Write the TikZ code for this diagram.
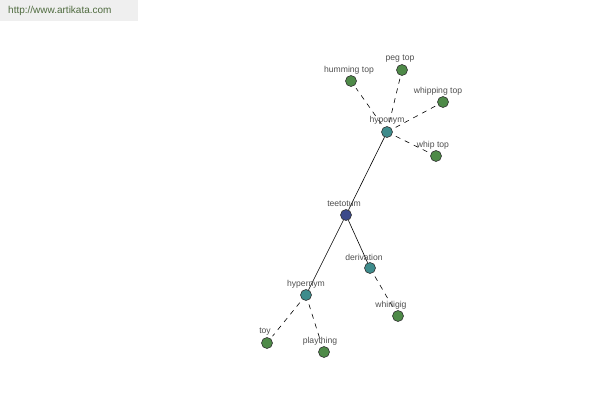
\documentclass[tikz,border=0pt]{standalone}
\usepackage{fontspec}
\setmainfont{Liberation Sans}
\definecolor{nodegreen}{HTML}{4E8A48}
\definecolor{nodeteal}{HTML}{3E8C8C}
\definecolor{nodeblue}{HTML}{3C4A8A}
\definecolor{labelgray}{HTML}{505050}
\definecolor{wmbg}{HTML}{EFEFEF}
\definecolor{wmtext}{HTML}{4F6B3F}
\begin{document}
\begin{tikzpicture}[x=1pt,y=-1pt,
  dot/.style={circle,draw=black!80,line width=0.6pt,minimum size=11pt,inner sep=0pt},
  leaf/.style={dot,fill=nodegreen},
  mid/.style={dot,fill=nodeteal},
  root/.style={dot,fill=nodeblue},
  lbl/.style={font=\fontsize{8.6}{10}\selectfont,text=labelgray,inner sep=0pt},
  rel/.style={draw=black,line width=0.6pt},
  dashrel/.style={rel,dash pattern=on 5pt off 5pt,shorten <=4pt,shorten >=3pt}]
\useasboundingbox (0,0) rectangle (600,400);
\fill[white] (0,0) rectangle (600,400);
\fill[wmbg] (0,0) rectangle (138,21);
\node[font=\fontsize{10}{12}\selectfont,text=wmtext,anchor=west,inner sep=0pt] (wm) at (8,11) {http://www.artikata.com};

\node[root] (teetotum) at (346,215) {};
\node[mid] (hyponym) at (387,132) {};
\node[mid] (hypernym) at (306,295) {};
\node[mid] (derivation) at (370,268) {};
\node[leaf] (humming) at (351,81) {};
\node[leaf] (peg) at (402,70) {};
\node[leaf] (whipping) at (443,102) {};
\node[leaf] (whip) at (436,156) {};
\node[leaf] (whirligig) at (398,316) {};
\node[leaf] (toy) at (267,343) {};
\node[leaf] (plaything) at (324,352) {};

\draw[rel] (teetotum) -- (hyponym);
\draw[rel] (teetotum) -- (hypernym);
\draw[rel] (teetotum) -- (derivation);
\draw[dashrel] (hyponym) -- (humming);
\draw[dashrel] (hyponym) -- (peg);
\draw[dashrel] (hyponym) -- (whipping);
\draw[dashrel] (hyponym) -- (whip);
\draw[dashrel] (derivation) -- (whirligig);
\draw[dashrel] (hypernym) -- (toy);
\draw[dashrel] (hypernym) -- (plaything);

\node[lbl] (lteetotum) at (344,204) {teetotum};
\node[lbl] (lhyponym) at (387,120) {hyponym};
\node[lbl] (lhypernym) at (306,284) {hypernym};
\node[lbl] (lderivation) at (364,257) {derivation};
\node[lbl] (lhumming) at (349,70) {humming top};
\node[lbl] (lpeg) at (400,59) {peg top};
\node[lbl] (lwhipping) at (438,91) {whipping top};
\node[lbl] (lwhip) at (433,145) {whip top};
\node[lbl] (lwhirligig) at (391,305) {whirligig};
\node[lbl] (ltoy) at (265,332) {toy};
\node[lbl] (lplaything) at (320,341) {plaything};
\end{tikzpicture}
\end{document}
